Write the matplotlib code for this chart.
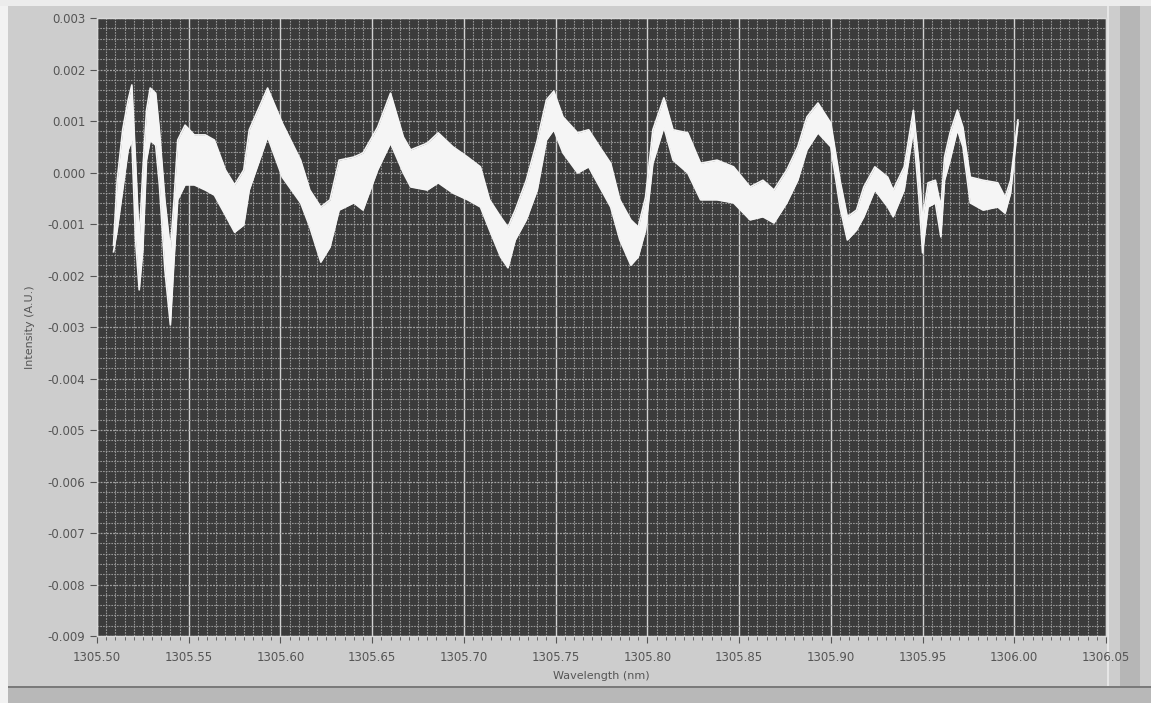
import matplotlib.pyplot as plt
import matplotlib.patches as mpatches
from matplotlib.ticker import MultipleLocator, FuncFormatter, FormatStrFormatter
import numpy as np

# Wavelength (nm) and the upper / lower edge of the noisy trace (x 1e-3 A.U.)
wavelength = [
    1305.509, 1305.511, 1305.514, 1305.517, 1305.519, 1305.521, 1305.523, 1305.525,
    1305.527, 1305.529, 1305.532, 1305.534, 1305.537, 1305.540, 1305.542, 1305.544,
    1305.548, 1305.553, 1305.559, 1305.564, 1305.570, 1305.575, 1305.580, 1305.583,
    1305.593, 1305.601, 1305.611, 1305.616, 1305.622, 1305.627, 1305.632, 1305.640,
    1305.645, 1305.653, 1305.660, 1305.667, 1305.671, 1305.680, 1305.686, 1305.694,
    1305.702, 1305.709, 1305.714, 1305.720, 1305.724, 1305.728, 1305.734, 1305.740,
    1305.745, 1305.749, 1305.754, 1305.762, 1305.768, 1305.774, 1305.780, 1305.785,
    1305.791, 1305.795, 1305.799, 1305.803, 1305.809, 1305.814, 1305.822, 1305.829,
    1305.838, 1305.847, 1305.856, 1305.863, 1305.869, 1305.876, 1305.882, 1305.887,
    1305.893, 1305.900, 1305.905, 1305.909, 1305.914, 1305.918, 1305.924, 1305.931,
    1305.934, 1305.940, 1305.945, 1305.948, 1305.950, 1305.953, 1305.957, 1305.960,
    1305.962, 1305.965, 1305.969, 1305.972, 1305.976, 1305.983, 1305.991, 1305.995,
    1305.998, 1306.002,
]
upper = [
    -1.41, -0.15, 0.83, 1.41, 1.70, 0.24, -1.31, 0.05,
    1.21, 1.64, 1.54, 0.83, -0.53, -1.50, -0.53, 0.63,
    0.92, 0.73, 0.73, 0.63, 0.05, -0.24, 0.05, 0.83,
    1.64, 0.96, 0.24, -0.34, -0.67, -0.53, 0.24, 0.30,
    0.38, 0.88, 1.54, 0.69, 0.44, 0.57, 0.77, 0.50,
    0.30, 0.11, -0.53, -0.86, -1.06, -0.73, -0.15, 0.63,
    1.41, 1.58, 1.08, 0.77, 0.83, 0.50, 0.18, -0.53,
    -0.92, -1.06, -0.48, 0.83, 1.45, 0.83, 0.77, 0.18,
    0.24, 0.11, -0.28, -0.15, -0.34, 0.05, 0.50, 1.08,
    1.35, 0.96, -0.15, -0.86, -0.73, -0.28, 0.11, -0.09,
    -0.34, 0.11, 1.21, 0.18, -0.92, -0.20, -0.15, -0.67,
    0.30, 0.77, 1.21, 0.88, -0.09, -0.15, -0.20, -0.48,
    -0.15, 1.02,
]
lower = [
    -1.54, -1.12, -0.34, 0.44, 0.63, -1.31, -2.28, -1.50,
    0.24, 0.63, 0.53, -0.24, -1.89, -2.96, -1.70, -0.53,
    -0.24, -0.24, -0.34, -0.44, -0.83, -1.16, -1.02, -0.34,
    0.69, -0.09, -0.59, -1.06, -1.74, -1.45, -0.73, -0.59,
    -0.73, 0.05, 0.57, -0.01, -0.28, -0.34, -0.20, -0.40,
    -0.53, -0.67, -1.12, -1.64, -1.85, -1.31, -0.92, -0.34,
    0.63, 0.83, 0.38, -0.01, 0.11, -0.28, -0.67, -1.31,
    -1.80, -1.64, -1.12, 0.18, 0.88, 0.24, -0.01, -0.53,
    -0.53, -0.59, -0.92, -0.86, -0.98, -0.59, -0.15, 0.44,
    0.77, 0.50, -0.67, -1.31, -1.12, -0.86, -0.34, -0.67,
    -0.86, -0.34, 0.83, -0.48, -1.56, -0.67, -0.59, -1.25,
    -0.15, 0.24, 0.83, 0.50, -0.59, -0.73, -0.67, -0.79,
    -0.40, 0.96,
]

x = np.array(wavelength)
hi = np.array(upper) * 1e-3
lo = np.array(lower) * 1e-3

fig = plt.figure(figsize=(11.51, 7.03), dpi=100)
fig.patch.set_facecolor('#cdcdcd')

# scanned panel edges
def strip(x0, y0, w, h, color):
    fig.patches.append(mpatches.Rectangle((x0 / 1151, y0 / 703), w / 1151, h / 703,
                                          transform=fig.transFigure, facecolor=color,
                                          edgecolor='none', zorder=-5))

strip(1120, 0, 20, 703, '#b6b6b6')
strip(0, 0, 1151, 15, '#b8b8b8')
strip(0, 15, 1151, 2, '#7a7a7a')
strip(0, 0, 8, 703, '#f2f2f2')
strip(0, 697, 1151, 6, '#ececec')
strip(1107, 17, 2, 680, '#e6e6e6')

ax = fig.add_axes([97 / 1151, 67 / 703, 1009 / 1151, 618 / 703])
ax.set_facecolor('#3b3b3b')

ax.set_xlim(1305.50, 1306.05)
ax.set_ylim(-0.009, 0.003)

ax.xaxis.set_major_locator(MultipleLocator(0.05))
ax.xaxis.set_minor_locator(MultipleLocator(0.005))
ax.yaxis.set_major_locator(MultipleLocator(0.001))
ax.yaxis.set_minor_locator(MultipleLocator(0.0002))
ax.xaxis.set_major_formatter(FormatStrFormatter('%.2f'))
ax.yaxis.set_major_formatter(FuncFormatter(lambda v, p: '%.3f' % (0.0 if abs(v) < 1e-9 else v)))

ax.grid(which='minor', color='#969696', linestyle=(0, (1.5, 1)), linewidth=0.8)
ax.grid(which='major', axis='y', color='#a4a4a4', linestyle=(0, (1.5, 1)), linewidth=0.9)
ax.grid(which='major', axis='x', color='#d2d2d2', linestyle='-', linewidth=1.0)
ax.set_axisbelow(True)

ax.tick_params(axis='both', which='major', colors='#555555', labelsize=8.5, length=5, direction='out')
ax.tick_params(axis='x', which='major', pad=6)
ax.tick_params(axis='x', which='minor', colors='#555555', length=3, direction='out')
ax.tick_params(axis='y', which='minor', length=0)
for sp in ax.spines.values():
    sp.set_color('#d8d8d8')
    sp.set_linewidth(1.0)

ax.fill_between(x, lo, hi, color='#f5f5f5', linewidth=0, zorder=3)
ax.plot(x, hi, color='#f5f5f5', linewidth=1.2, zorder=3)
ax.plot(x, lo, color='#f5f5f5', linewidth=1.2, zorder=3)

ax.set_xlabel('Wavelength (nm)', fontsize=8, color='#555555', labelpad=5)
ax.set_ylabel('Intensity (A.U.)', fontsize=8, color='#555555', labelpad=9)

plt.savefig('out.png', dpi=100, facecolor=fig.get_facecolor())
